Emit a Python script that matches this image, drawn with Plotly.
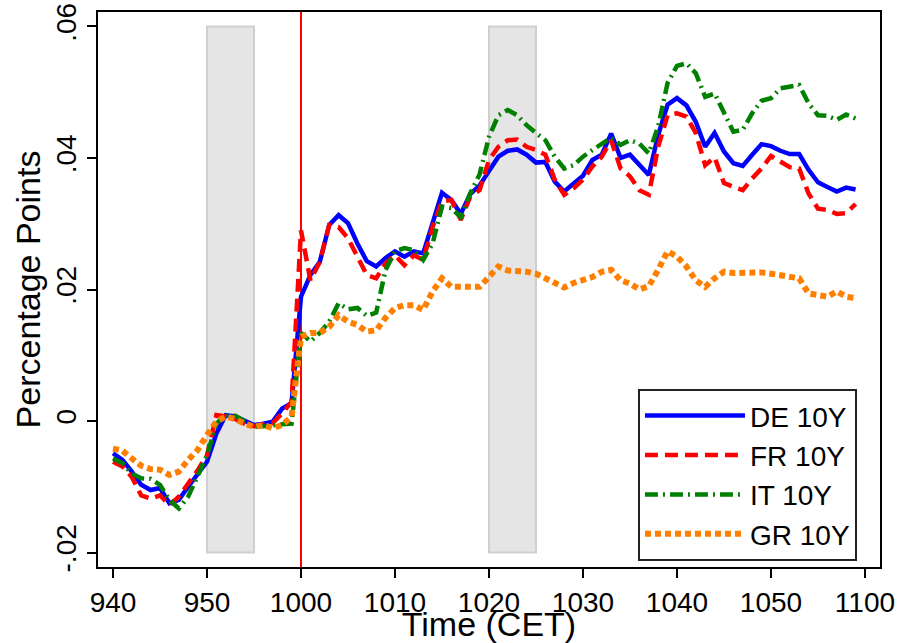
import plotly.graph_objects as go

# ---- data (HHMM CET, one observation per minute from 9:40 to 10:59) ----
start_hhmm = 940
n_obs = 80
de_10y = [-0.0049, -0.0059, -0.0077, -0.0097, -0.0105, -0.0102, -0.0125, -0.0120, -0.0100, -0.0082,
          -0.0062, -0.0019, 0.0009, 0.0007, 0.0000, -0.0006, -0.0004, -0.0001, 0.0019, 0.0027,
          0.0189, 0.0222, 0.0242, 0.0298, 0.0313, 0.0301, 0.0270, 0.0243, 0.0235, 0.0248,
          0.0258, 0.0250, 0.0258, 0.0255, 0.0301, 0.0347, 0.0336, 0.0315, 0.0345, 0.0358,
          0.0380, 0.0402, 0.0411, 0.0413, 0.0405, 0.0393, 0.0394, 0.0364, 0.0349, 0.0360,
          0.0373, 0.0397, 0.0405, 0.0437, 0.0400, 0.0405, 0.0389, 0.0374, 0.0435, 0.0481,
          0.0491, 0.0480, 0.0455, 0.0417, 0.0438, 0.0410, 0.0392, 0.0388, 0.0405, 0.0421,
          0.0418, 0.0411, 0.0406, 0.0406, 0.0382, 0.0363, 0.0356, 0.0349, 0.0355, 0.0352]
fr_10y = [-0.0062, -0.0069, -0.0085, -0.0113, -0.0118, -0.0113, -0.0128, -0.0115, -0.0095, -0.0075,
          -0.0052, 0.0009, 0.0007, 0.0003, -0.0004, -0.0008, -0.0005, -0.0003, 0.0012, 0.0029,
          0.0290, 0.0214, 0.0242, 0.0298, 0.0295, 0.0278, 0.0250, 0.0222, 0.0217, 0.0240,
          0.0252, 0.0237, 0.0252, 0.0245, 0.0295, 0.0334, 0.0336, 0.0306, 0.0341, 0.0351,
          0.0397, 0.0417, 0.0427, 0.0428, 0.0417, 0.0412, 0.0405, 0.0367, 0.0344, 0.0354,
          0.0367, 0.0387, 0.0402, 0.0427, 0.0384, 0.0372, 0.0351, 0.0344, 0.0417, 0.0465,
          0.0468, 0.0463, 0.0438, 0.0389, 0.0401, 0.0362, 0.0356, 0.0351, 0.0369, 0.0384,
          0.0403, 0.0394, 0.0386, 0.0384, 0.0346, 0.0323, 0.0321, 0.0315, 0.0316, 0.0330]
it_10y = [-0.0057, -0.0064, -0.0080, -0.0087, -0.0088, -0.0097, -0.0120, -0.0133, -0.0115, -0.0082,
          -0.0052, -0.0004, 0.0009, 0.0008, 0.0000, -0.0009, -0.0008, -0.0006, -0.0005, -0.0004,
          0.0134, 0.0121, 0.0134, 0.0151, 0.0179, 0.0170, 0.0172, 0.0160, 0.0165, 0.0230,
          0.0258, 0.0263, 0.0260, 0.0245, 0.0270, 0.0326, 0.0324, 0.0310, 0.0346, 0.0375,
          0.0432, 0.0465, 0.0473, 0.0465, 0.0450, 0.0438, 0.0427, 0.0402, 0.0384, 0.0389,
          0.0402, 0.0412, 0.0422, 0.0431, 0.0420, 0.0427, 0.0422, 0.0407, 0.0448, 0.0514,
          0.0540, 0.0544, 0.0529, 0.0493, 0.0498, 0.0470, 0.0440, 0.0443, 0.0468, 0.0487,
          0.0491, 0.0506, 0.0509, 0.0511, 0.0483, 0.0465, 0.0464, 0.0458, 0.0466, 0.0460]
gr_10y = [-0.0042, -0.0045, -0.0057, -0.0068, -0.0073, -0.0074, -0.0082, -0.0077, -0.0059, -0.0044,
          -0.0021, -0.0001, 0.0007, 0.0003, -0.0004, -0.0009, -0.0006, -0.0011, -0.0006, 0.0007,
          0.0128, 0.0134, 0.0134, 0.0143, 0.0161, 0.0151, 0.0146, 0.0136, 0.0138, 0.0157,
          0.0172, 0.0176, 0.0176, 0.0169, 0.0197, 0.0217, 0.0204, 0.0204, 0.0202, 0.0204,
          0.0219, 0.0235, 0.0229, 0.0229, 0.0227, 0.0224, 0.0217, 0.0209, 0.0203, 0.0210,
          0.0214, 0.0219, 0.0227, 0.0230, 0.0214, 0.0209, 0.0200, 0.0205, 0.0230, 0.0258,
          0.0250, 0.0235, 0.0214, 0.0204, 0.0217, 0.0227, 0.0225, 0.0226, 0.0226, 0.0226,
          0.0224, 0.0221, 0.0219, 0.0217, 0.0194, 0.0192, 0.0189, 0.0197, 0.0189, 0.0187]

x_tick_times = [940, 950, 1000, 1010, 1020, 1030, 1040, 1050, 1100]
x_tick_labels = ["940", "950", "1000", "1010", "1020", "1030", "1040", "1050", "1100"]
y_tick_vals = [-0.02, 0.0, 0.02, 0.04, 0.06]
y_tick_labels = ["-.02", "0", ".02", ".04", ".06"]
event_time = 1000
shaded_windows = [(950, 955), (1020, 1025)]
shade_range = (-0.02, 0.06)

series_names = ["DE 10Y", "FR 10Y", "IT 10Y", "GR 10Y"]


def hhmm_to_min(t):
    return (t // 100) * 60 + t % 100 - ((start_hhmm // 100) * 60 + start_hhmm % 100)


def min_to_hhmm(m):
    tot = (start_hhmm // 100) * 60 + start_hhmm % 100 + m
    return (tot // 60) * 100 + tot % 60


times = [min_to_hhmm(i) for i in range(n_obs)]
x = [hhmm_to_min(t) for t in times]

FONT = "Liberation Sans, Arial, sans-serif"
styles = [
    dict(color="#0000FF", width=4.5, dash="solid"),
    dict(color="#FF0000", width=4.5, dash="13px,7px"),
    dict(color="#008000", width=4.5, dash="13px,5px,2px,5px"),
    dict(color="#FF8000", width=6, dash="6px,4px"),
]

fig = go.Figure()
for name, vals, st in zip(series_names, [de_10y, fr_10y, it_10y, gr_10y], styles):
    fig.add_trace(go.Scatter(x=x, y=vals, mode="lines", name=name, line=st))

for a, b in shaded_windows:
    fig.add_shape(type="rect", xref="x", yref="y",
                  x0=hhmm_to_min(a), x1=hhmm_to_min(b), y0=shade_range[0], y1=shade_range[1],
                  fillcolor="#E5E5E5", line=dict(color="#CFCFCF", width=2), layer="below")

fig.add_shape(type="line", xref="x", yref="paper",
              x0=hhmm_to_min(event_time), x1=hhmm_to_min(event_time), y0=0, y1=1,
              line=dict(color="#FF0000", width=2), layer="below")

fig.update_layout(
    width=912, height=643,
    margin=dict(l=98, r=32, t=12, b=76, autoexpand=False),
    paper_bgcolor="white", plot_bgcolor="white",
    font=dict(family=FONT, size=28, color="black"),
    showlegend=True,
    legend=dict(x=0.6905, y=0.011, xanchor="left", yanchor="bottom",
                bgcolor="white", bordercolor="#222222", borderwidth=2,
                itemwidth=100, font=dict(size=28), tracegroupgap=0),
    xaxis=dict(range=[-1.596, 81.6], tickmode="array", automargin=False,
               tickvals=[hhmm_to_min(t) for t in x_tick_times], ticktext=x_tick_labels,
               ticks="outside", ticklen=9, tickwidth=1.5, tickcolor="black",
               showline=True, linecolor="black", linewidth=2, mirror=True,
               showgrid=False, zeroline=False,
               title=dict(text="Time (CET)", standoff=6),
               tickfont=dict(size=28)),
    yaxis=dict(range=[-0.0222, 0.0622], tickmode="array", automargin=False,
               tickvals=y_tick_vals, ticktext=y_tick_labels, tickangle=-90,
               ticks="outside", ticklen=9, tickwidth=1.5, tickcolor="black",
               showline=True, linecolor="black", linewidth=2, mirror=True,
               showgrid=False, zeroline=False,
               title=dict(text="Percentage Points", standoff=0),
               tickfont=dict(size=28)),
)

fig.write_html("out.html", config={"displayModeBar": False},
               post_script="document.body.style.margin='0';")
